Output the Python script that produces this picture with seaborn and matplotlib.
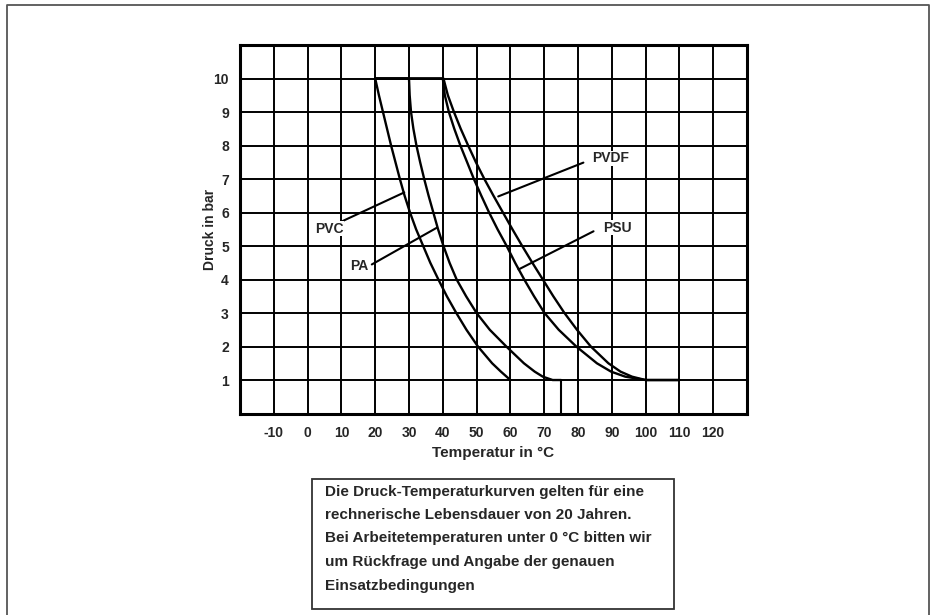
import pandas as pd
import numpy as np
import matplotlib
matplotlib.use("Agg")
import matplotlib.pyplot as plt
import seaborn as sns
from matplotlib.patches import Rectangle
from matplotlib.lines import Line2D

# curves (temperature in C, pressure in bar)
pvc_temp = [20, 21.1, 22.3, 23.5, 24.7, 26.0, 27.3, 28.7, 30.3, 32.1, 34.2,
            36.3, 38.7, 41.2, 44.0, 47.0, 50.4, 54.6, 57.2, 60]
pvc_druck = [10, 9.5, 9, 8.5, 8, 7.5, 7, 6.5, 6, 5.5, 5,
             4.5, 4, 3.5, 3, 2.5, 2, 1.5, 1.25, 1]

pa_temp = [20, 30, 30.2, 30.6, 31.3, 32.2, 33.3, 34.5, 35.8, 37.2, 38.6, 40.2,
           42.0, 44.1, 46.9, 50.0, 53.9, 58.8, 64.0, 67.2, 69.6, 72.5, 75]
pa_druck = [10, 10, 9.5, 9, 8.5, 8, 7.5, 7, 6.5, 6, 5.5, 5,
            4.5, 4, 3.5, 3, 2.5, 2, 1.5, 1.25, 1.1, 1, 1]

psu_temp = [20, 40, 40.6, 41.8, 43.4, 45.2, 47.2, 49.2, 51.4, 53.7, 56.2, 58.9,
            61.4, 64.1, 67.0, 70.1, 74.3, 79.5, 85.6, 89.8, 94.0, 100, 110]
psu_druck = [10, 10, 9.5, 9, 8.5, 8, 7.5, 7, 6.5, 6, 5.5, 5,
             4.5, 4, 3.5, 3, 2.5, 2, 1.5, 1.25, 1.1, 1, 1]

pvdf_temp = [20, 40.2, 41.5, 43.3, 45.3, 47.5, 49.8, 52.3, 55.0, 57.8, 60.6, 63.5,
             66.5, 69.6, 72.7, 76.0, 79.7, 83.8, 89.0, 92.6, 96.0, 100, 110]
pvdf_druck = [10, 10, 9.5, 9, 8.5, 8, 7.5, 7, 6.5, 6, 5.5, 5,
              4.5, 4, 3.5, 3, 2.5, 2, 1.5, 1.25, 1.1, 1, 1]

# short vertical mark at 75 C below the 1 bar line
mark_temp = [75, 75]
mark_druck = [0, 1]

x_ticks = [-10, 0, 10, 20, 30, 40, 50, 60, 70, 80, 90, 100, 110, 120]
y_ticks = [1, 2, 3, 4, 5, 6, 7, 8, 9, 10]

# label text, text position, pointer start, pointer end
labels = ["PVC", "PA", "PVDF", "PSU"]
label_x = [2.2, 12.6, 84.1, 87.4]
label_y = [5.52, 4.4, 7.62, 5.55]
ptr_x0 = [9.6, 19.0, 81.6, 84.6]
ptr_y0 = [5.71, 4.45, 7.49, 5.44]
ptr_x1 = [28.6, 38.3, 56.4, 62.4]
ptr_y1 = [6.6, 5.55, 6.48, 4.3]

note_lines = [
    "Die Druck-Temperaturkurven gelten für eine",
    "rechnerische Lebensdauer von 20 Jahren.",
    "Bei Arbeitetemperaturen unter 0 °C bitten wir",
    "um Rückfrage und Angabe der genauen",
    "Einsatzbedingungen",
]

sns.set_style("white")
plt.rcParams["font.family"] = ["Liberation Sans", "DejaVu Sans"]
plt.rcParams["font.weight"] = "bold"

fig = plt.figure(figsize=(9.35, 6.15), dpi=100)
ax = fig.add_axes([0.2567, 0.3276, 0.5422, 0.5992])

curves = [(pvc_temp, pvc_druck), (pa_temp, pa_druck),
          (psu_temp, psu_druck), (pvdf_temp, pvdf_druck)]
for t, d in curves:
    df = pd.DataFrame({"temp": t, "druck": d})
    sns.lineplot(data=df, x="temp", y="druck", color="black", lw=1.7,
                 estimator=None, sort=False, ax=ax, zorder=3)

sns.lineplot(x=mark_temp, y=mark_druck, color="black", lw=1.5,
             estimator=None, sort=False, ax=ax, zorder=3)

for i in range(len(labels)):
    ax.plot([ptr_x0[i], ptr_x1[i]], [ptr_y0[i], ptr_y1[i]],
            color="black", lw=1.5, zorder=3)
    ax.text(label_x[i], label_y[i], labels[i], ha="left", va="center",
            fontsize=10, fontweight="bold", zorder=4,
            bbox=dict(facecolor="white", edgecolor="none", pad=0.5))

ax.set_xlim(-20, 130)
ax.set_ylim(0, 11)
ax.set_xticks(x_ticks)
ax.set_yticks(y_ticks)
ax.set_xticklabels([str(v) for v in x_ticks], fontsize=10, fontweight="bold")
ax.set_yticklabels([str(v) for v in y_ticks], fontsize=10, fontweight="bold")
ax.tick_params(axis="both", length=0)
ax.tick_params(axis="x", pad=9)
ax.tick_params(axis="y", pad=8)
ax.grid(True, color="black", lw=1.4)
ax.set_axisbelow(True)
for s in ax.spines.values():
    s.set_visible(True)
    s.set_color("black")
    s.set_linewidth(2.2)

ax.set_xlabel("Temperatur in °C", fontsize=11, fontweight="bold", labelpad=4)
ax.set_ylabel("Druck in bar", fontsize=10, fontweight="bold")
ax.yaxis.set_label_coords(-0.045, 0.5)

# note box below the chart
fig.patches.append(Rectangle((0.3334, 0.0098), 0.3875, 0.2109, transform=fig.transFigure,
                             fill=False, edgecolor="#333333", lw=1.3))
note_y = [0.2, 0.1618, 0.1244, 0.0862, 0.0472]
for line, yy in zip(note_lines, note_y):
    fig.text(0.3476, yy, line, ha="left", va="center", fontsize=11, fontweight="bold")

# outer frame (open at the bottom)
frame_x = [0.0075, 0.0075, 0.9935, 0.9935]
frame_y = [0.0, 0.9919, 0.9919, 0.0]
fig.add_artist(Line2D(frame_x, frame_y, transform=fig.transFigure, color="#555555", lw=1.3))

fig.savefig("out.png", dpi=100)
